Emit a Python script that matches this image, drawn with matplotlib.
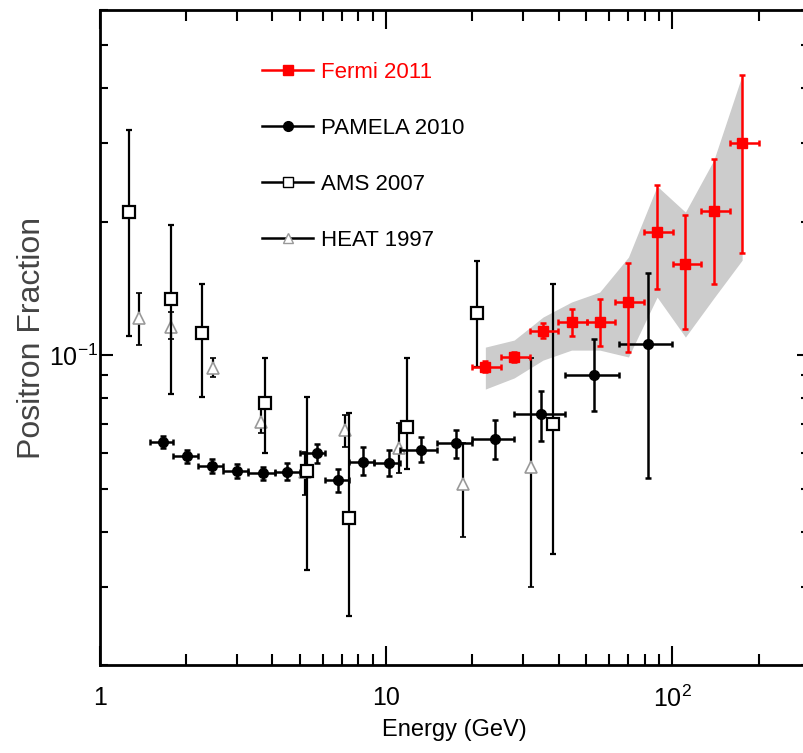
import matplotlib
matplotlib.use("Agg")
import matplotlib.pyplot as plt
from matplotlib.lines import Line2D
from matplotlib.ticker import FixedLocator, FuncFormatter, NullFormatter, LogLocator
import numpy as np

plt.rcParams['font.family'] = ['Liberation Sans', 'DejaVu Sans']
plt.rcParams['mathtext.fontset'] = 'custom'
plt.rcParams['mathtext.rm'] = 'Liberation Sans'
plt.rcParams['mathtext.it'] = 'Liberation Sans:italic'

# Fermi 2011
fermi_e = [22.2, 28.0, 35.3, 44.4, 55.7, 70.2, 88.4, 111.0, 139.5, 175.2]
fermi_elo = [20.0, 25.2, 31.7, 39.9, 50.2, 63.2, 79.6, 100.2, 126.2, 158.9]
fermi_ehi = [25.2, 31.7, 39.9, 50.2, 63.2, 79.6, 100.2, 126.2, 158.9, 200.0]
fermi_f = [0.0941, 0.0991, 0.1134, 0.1189, 0.1189, 0.1317, 0.1897, 0.1604, 0.2112, 0.301]
fermi_flo = [0.0915, 0.0965, 0.109, 0.1104, 0.1048, 0.1017, 0.1406, 0.1146, 0.145, 0.1695]
fermi_fhi = [0.0968, 0.1018, 0.1181, 0.1268, 0.1335, 0.161, 0.2413, 0.2068, 0.2766, 0.4283]
band_lo = [0.0838, 0.0888, 0.0974, 0.1026, 0.1026, 0.099, 0.1351, 0.1098, 0.1344, 0.1637]
band_hi = [0.1042, 0.1081, 0.1218, 0.1317, 0.1387, 0.1663, 0.2404, 0.2101, 0.2752, 0.4277]

# PAMELA 2010
pam_e = [1.665, 2.010, 2.458, 3.006, 3.706, 4.496, 5.723, 6.81, 8.288, 10.19, 13.22, 17.57, 24.05, 34.83, 53.39, 82.2]
pam_elo = [1.5, 1.8, 2.2, 2.7, 3.3, 4.1, 5.0, 6.1, 7.4, 9.1, 11.2, 15, 20, 28, 42, 65]
pam_ehi = [1.8, 2.2, 2.7, 3.3, 4.1, 5.0, 6.1, 7.4, 9.1, 11.2, 15, 20, 28, 42, 65, 100]
pam_f = [0.0637, 0.0592, 0.0562, 0.0548, 0.0541, 0.0546, 0.0601, 0.0523, 0.0575, 0.0571, 0.0611, 0.0632, 0.0646, 0.0736, 0.0901, 0.1059]
pam_flo = [0.0616, 0.0572, 0.0543, 0.0527, 0.0522, 0.0522, 0.0572, 0.0492, 0.0536, 0.0534, 0.0573, 0.0585, 0.0582, 0.0641, 0.0749, 0.0527]
pam_fhi = [0.0657, 0.0612, 0.0582, 0.0569, 0.056, 0.0571, 0.063, 0.0553, 0.0619, 0.0612, 0.0652, 0.0678, 0.0714, 0.0831, 0.1088, 0.1528]

# AMS 2007
ams_e = [1.263, 1.767, 2.268, 3.775, 5.28, 7.42, 11.81, 20.76, 38.28]
ams_f = [0.2104, 0.1335, 0.1123, 0.0778, 0.0548, 0.0428, 0.0689, 0.1245, 0.0699]
ams_flo = [0.1105, 0.0816, 0.0803, 0.0602, 0.0328, 0.0258, 0.0552, 0.0941, 0.0356]
ams_fhi = [0.3216, 0.1964, 0.145, 0.0983, 0.0803, 0.0741, 0.0983, 0.1632, 0.145]

# HEAT 1997
heat_e = [1.372, 1.767, 2.49, 3.655, 5.21, 7.19, 11.04, 18.54, 32.05]
heat_f = [0.121, 0.1158, 0.0933, 0.0707, 0.0546, 0.0678, 0.0616, 0.0512, 0.056]
heat_flo = [0.1053, 0.1085, 0.0894, 0.0666, 0.0484, 0.0621, 0.0541, 0.0388, 0.030]
heat_fhi = [0.1382, 0.1252, 0.0983, 0.0778, 0.0604, 0.0732, 0.0702, 0.0632, 0.0983]


def yerr(f, lo, hi):
    f = np.array(f)
    return [f - np.array(lo), np.array(hi) - f]


def xerr(e, lo, hi):
    e = np.array(e)
    return [e - np.array(lo), np.array(hi) - e]


fig = plt.figure(figsize=(8.04, 7.53), dpi=100)
ax = fig.add_axes([100 / 804, 88 / 753, 709 / 804, 655 / 753])

# systematic band
ax.fill_between(fermi_e, band_lo, band_hi, color='#cccccc', lw=0, zorder=1)

ax.errorbar(heat_e, heat_f, yerr=yerr(heat_f, heat_flo, heat_fhi), fmt='^',
            color='black', ecolor='black', mfc='white', mec='#999999', ms=8,
            mew=1.2, elinewidth=1.6, capsize=2.5, capthick=1.6, zorder=3)
ax.errorbar(ams_e, ams_f, yerr=yerr(ams_f, ams_flo, ams_fhi), fmt='s',
            color='black', mfc='white', mec='black', ms=9, mew=1.6,
            elinewidth=1.6, capsize=2.5, capthick=1.6, zorder=4)
ax.errorbar(pam_e, pam_f, xerr=xerr(pam_e, pam_elo, pam_ehi),
            yerr=yerr(pam_f, pam_flo, pam_fhi), fmt='o', color='black',
            ms=7, elinewidth=1.8, capsize=2.5, capthick=1.8, zorder=5)
ax.errorbar(fermi_e, fermi_f, xerr=xerr(fermi_e, fermi_elo, fermi_ehi),
            yerr=yerr(fermi_f, fermi_flo, fermi_fhi), fmt='s', color='red',
            ms=7, elinewidth=1.8, capsize=2.5, capthick=1.8, zorder=6)

ax.set_xscale('log')
ax.set_yscale('log')
ax.set_xlim(1, 300)
ax.set_ylim(0.02, 0.6)

ax.xaxis.set_major_locator(FixedLocator([1, 10, 100]))
ax.xaxis.set_major_formatter(FuncFormatter(
    lambda v, p: {1: '1', 10: '10', 100: r'$\mathregular{10^2}$'}.get(int(round(v)), '')))
ax.xaxis.set_minor_locator(LogLocator(base=10, subs=np.arange(2, 10)))
ax.xaxis.set_minor_formatter(NullFormatter())
ax.yaxis.set_major_locator(FixedLocator([0.1]))
ax.yaxis.set_major_formatter(FuncFormatter(lambda v, p: r'$\mathregular{10^{-1}}$'))
ax.yaxis.set_minor_locator(LogLocator(base=10, subs=np.arange(2, 10)))
ax.yaxis.set_minor_formatter(NullFormatter())

for s in ax.spines.values():
    s.set_linewidth(2)
ax.tick_params(axis='x', which='major', direction='in', top=True, length=14,
               width=1.5, labelsize=18, pad=15)
ax.tick_params(axis='x', which='minor', direction='in', top=True, length=8,
               width=1.5)
ax.tick_params(axis='y', which='major', direction='in', right=True, length=9,
               width=1.5, labelsize=18, pad=1)
ax.tick_params(axis='y', which='minor', direction='in', right=True, length=6,
               width=1.5)

ax.set_xlabel('Energy (GeV)', fontsize=17)
ax.xaxis.set_label_coords(0.5, -0.083)
ax.set_ylabel('Positron Fraction', fontsize=23, color='#444444')
ax.yaxis.set_label_coords(-0.075, 0.5)

handles = [
    Line2D([], [], color='red', marker='s', ms=7, lw=1.8),
    Line2D([], [], color='black', marker='o', ms=7, lw=1.8),
    Line2D([], [], color='black', marker='s', ms=7, mfc='white', lw=1.8),
    Line2D([], [], color='black', marker='^', ms=7, mfc='white', mec='#999999', lw=1.8),
]
labels = ['Fermi 2011', 'PAMELA 2010', 'AMS 2007', 'HEAT 1997']
leg = ax.legend(handles, labels, loc='upper left', bbox_to_anchor=(0.2285, 0.921),
                frameon=False, fontsize=16, handlelength=2.3, handletextpad=0.35,
                labelspacing=1.58, borderpad=0, borderaxespad=0)
leg.get_texts()[0].set_color('red')

fig.savefig('out.png', dpi=100)
